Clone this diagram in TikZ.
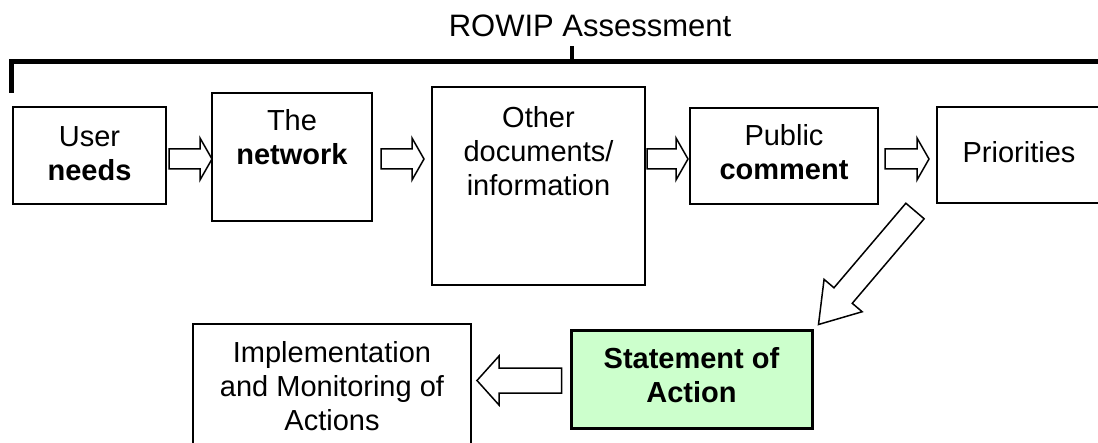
\documentclass[tikz,border=0pt]{standalone}
\usepackage{fontspec}
\setmainfont{Liberation Sans}
\usetikzlibrary{calc}
\definecolor{soagreen}{HTML}{CCFFCC}

\begin{document}
\begin{tikzpicture}[x=0.5pt, y=-0.5pt,
    box/.style={draw, line width=1pt, inner sep=0pt},
    txt/.style={align=center, inner sep=0pt, anchor=north, font=\fontsize{14.5}{17}\selectfont},
    flow/.style={draw, fill=white, line width=0.75pt, line join=miter}]
  % tail, tip, shaft half width, head half width, head length
  \def\blockarrow#1#2#3#4#5{%
    \coordinate (head) at ($(#2)!#5!(#1)$);
    \draw[flow] ($(#1)!#3!90:(#2)$) -- ($(head)!#3!90:(#2)$) -- ($(head)!#4!90:(#2)$) -- (#2)
      -- ($(head)!#4!-90:(#2)$) -- ($(head)!#3!-90:(#2)$) -- ($(#1)!#3!-90:(#2)$) -- cycle;}

  \useasboundingbox (0,0) rectangle (1098,443);

  % Bracket
  \node[font=\fontsize{15.5}{17}\selectfont, anchor=base, inner sep=0pt] (title) at (590,37) {ROWIP Assessment};
  \draw[line width=2.5pt] (11.5,93) -- (11.5,61.5) -- (1110,61.5);
  \draw[line width=2pt] (572,61.5) -- (572,46);

  % Boxes
  \node[box, minimum width=76.5pt, minimum height=48.5pt] (user) at (89.5,155.5) {};
  \node[box, minimum width=80pt, minimum height=64pt] (net) at (292,157) {};
  \node[box, minimum width=106.5pt, minimum height=99pt] (other) at (538.5,186) {};
  \node[box, minimum width=94pt, minimum height=48pt] (pub) at (784,156) {};
  \node[box, minimum width=82pt, minimum height=48pt] (prio) at (1019,155) {};
  \node[box, minimum width=139pt, minimum height=63pt] (impl) at (332,387) {};
  \node[box, line width=1.5pt, fill=soagreen, minimum width=120.5pt, minimum height=48.5pt] (soa) at (691.5,379.5) {};

  % Texts
  \node[txt] (t-user) at ($(user.north)+(0,20)$) {User\\\textbf{needs}};
  \node[txt] (t-net) at ($(net.north)+(0,17)$) {The\\\textbf{network}};
  \node[txt] (t-other) at ($(other.north)+(0,20)$) {Other\\documents/\\information};
  \node[txt] (t-pub) at ($(pub.north)+(0,17)$) {Public\\\textbf{comment}};
  \node[txt] (t-prio) at ($(prio.north)+(0,35)$) {Priorities};
  \node[txt] (t-impl) at ($(impl.north)+(0,18)$) {Implementation\\and Monitoring of\\Actions};
  \node[txt] (t-soa) at ($(soa.north)+(0,18)$) {\textbf{Statement of}\\\textbf{Action}};

  % Arrows
  \coordinate (row) at (0,159);
  \coordinate (a1s) at ($(user.east |- row)+(2,0)$);
  \coordinate (a1e) at ($(net.west |- row)+(1,0)$);
  \coordinate (a2s) at ($(net.east |- row)+(8,0)$);
  \coordinate (a2e) at ($(other.west |- row)+(-7,0)$);
  \coordinate (a3s) at ($(other.east |- row)+(1,0)$);
  \coordinate (a3e) at ($(pub.west |- row)+(-1,0)$);
  \coordinate (a4s) at ($(pub.east |- row)+(6,0)$);
  \coordinate (a4e) at ($(prio.west |- row)+(-7,0)$);
  \coordinate (a5s) at ($(prio.south west)+(-21,7)$);
  \coordinate (a5e) at ($(soa.north east)+(5,-5)$);
  \coordinate (a6s) at ($(soa.west)+(-8,1)$);
  \coordinate (a6e) at ($(impl.east |- soa.west)+(5,1)$);
  \blockarrow{a1s}{a1e}{5pt}{10.5pt}{6pt}
  \blockarrow{a2s}{a2e}{5pt}{10.5pt}{6pt}
  \blockarrow{a3s}{a3e}{5pt}{10.5pt}{6pt}
  \blockarrow{a4s}{a4e}{5pt}{10.5pt}{6pt}
  \blockarrow{a5s}{a5e}{6pt}{12.5pt}{19pt}
  \blockarrow{a6s}{a6e}{6.25pt}{12.25pt}{11pt}
\end{tikzpicture}
\end{document}
